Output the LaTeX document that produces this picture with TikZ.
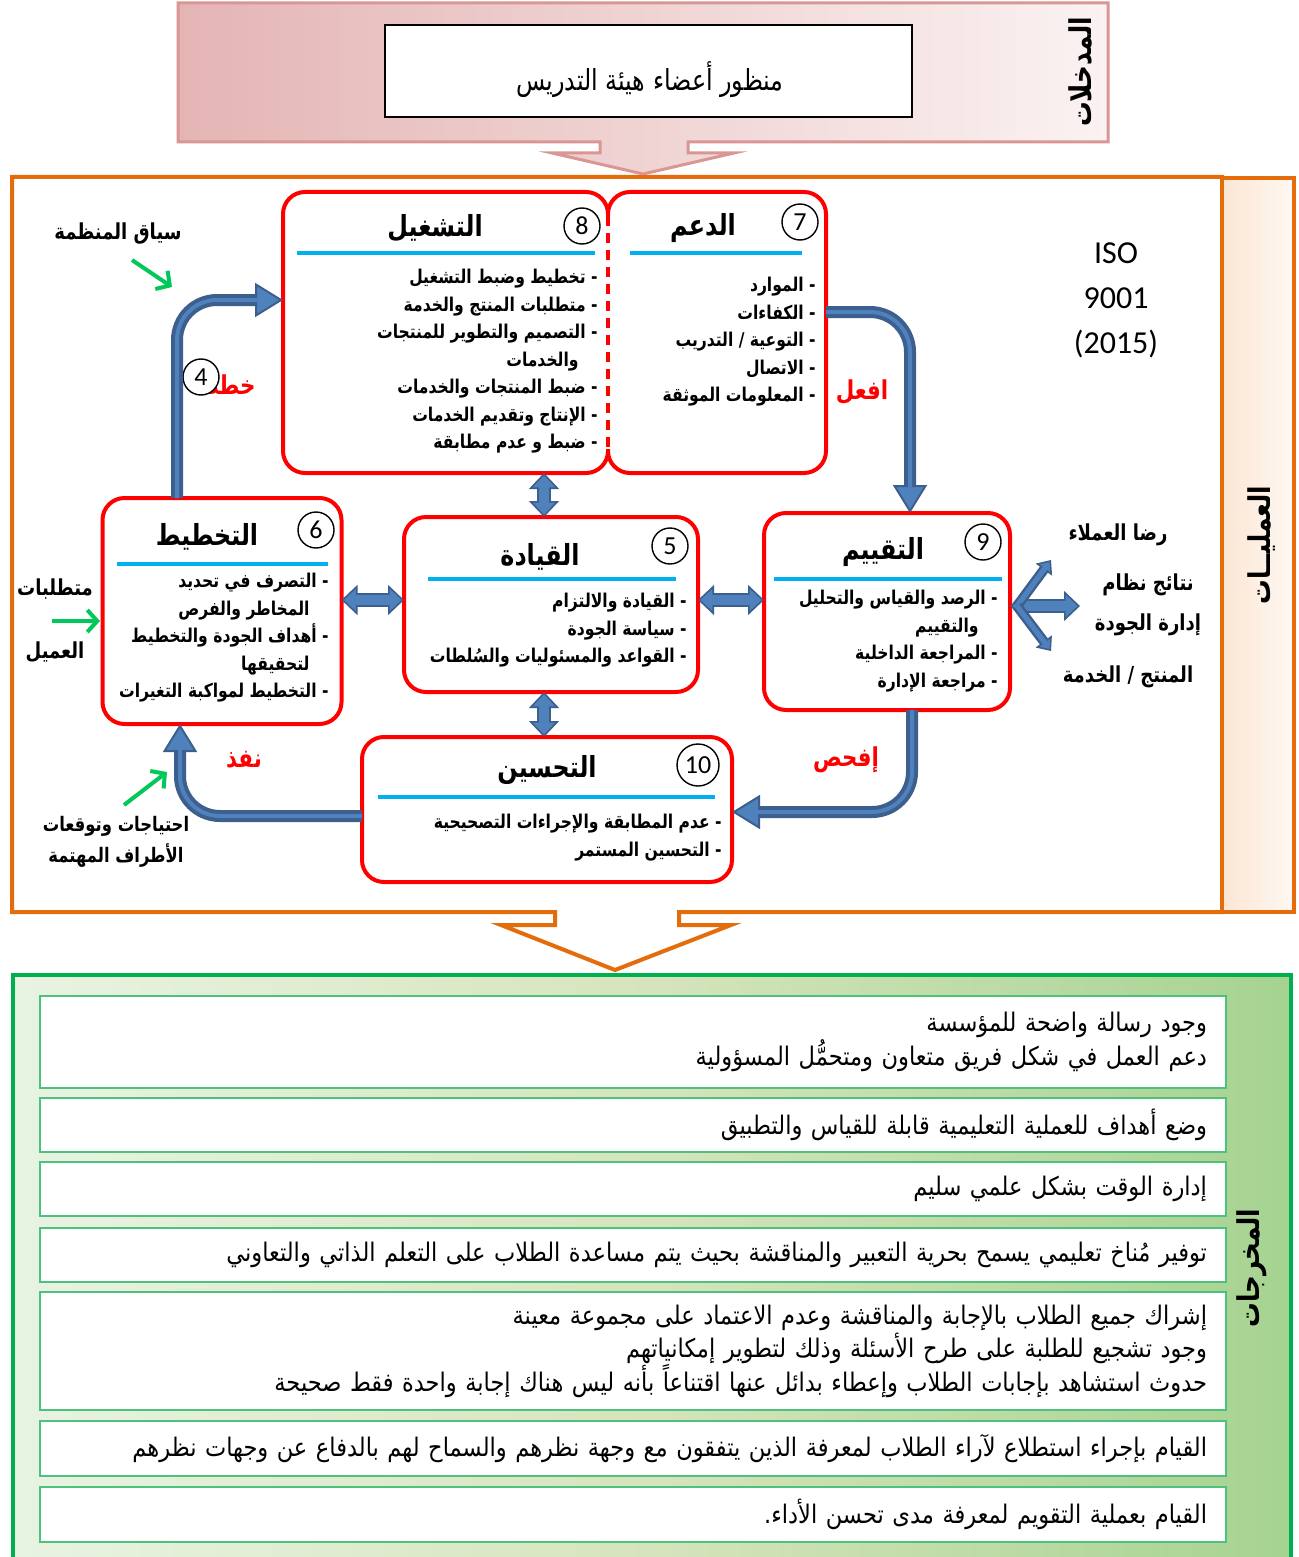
\documentclass[tikz,border=0pt]{standalone}
\usepackage{fontspec}
\usepackage{tikz}
\usetikzlibrary{
    arrows.meta,
    calc,
    positioning
}
\TeXXeTstate=1
\newfontfamily\arabicfont[Script=Arabic]{DejaVu Sans}
\newfontfamily\arabicnarrow[Script=Arabic, FakeStretch=0.82]{DejaVu Sans}
\newfontfamily\arabicbody[Script=Arabic, FakeStretch=0.88]{DejaVu Sans}
\newfontfamily\isofont{Carlito}
\newcommand{\rl}[1]{\beginR #1\endR}

\definecolor{pinkline}{HTML}{D99694}
\definecolor{pinkdark}{HTML}{E4B5B4}
\definecolor{pinklight}{HTML}{FBF2F2}
\definecolor{orangeline}{HTML}{E46C0A}
\definecolor{peach}{HTML}{FCE6D4}
\definecolor{greenline}{HTML}{00B050}
\definecolor{greenbox}{HTML}{4DC27C}
\definecolor{greenlight}{HTML}{E8F4E2}
\definecolor{greenmid}{HTML}{D6E4BC}
\definecolor{greendark}{HTML}{A6D391}
\definecolor{arrowgreen}{HTML}{00C85A}
\definecolor{cyanline}{HTML}{00B0F0}
\definecolor{pipedark}{HTML}{3C5F8D}
\definecolor{pipelight}{HTML}{4F81BD}

\tikzset{
    pipetip/.tip={Triangle[length=14pt, width=17pt, fill=pipelight, color=pipedark, line width=1pt]},
    blocktip/.tip={Triangle[length=8pt, width=15pt, fill=pipelight, color=pipedark, line width=0.8pt]},
    smalltip/.tip={Triangle[length=6pt, width=10pt, fill=pipelight, color=pipedark, line width=0.8pt]}
}

\begin{document}
\begin{tikzpicture}[x=0.5pt, y=-0.5pt,
    procbox/.style={draw=red, line width=2pt, rounded corners=11pt, fill=white, inner sep=0pt, outer sep=0pt},
    boxtitle/.style={font=\arabicnarrow\bfseries\fontsize{14.5}{16}\selectfont, inner sep=0pt},
    boxitems/.style={font=\arabicnarrow\bfseries\fontsize{9.5}{13.75}\selectfont, align=right, anchor=north east, inner sep=0pt},
    numcircle/.style={circle, draw, line width=0.7pt, minimum size=18pt, inner sep=0pt, fill=white, font=\isofont\fontsize{13}{13}\selectfont},
    cyanbar/.style={draw=cyanline, line width=2pt},
    pipe/.style={draw=pipedark, line width=6pt, rounded corners=20pt, -{pipetip},
        postaction={draw=pipelight, line width=2pt, -, shorten >=13pt}},
    blockarr/.style={draw=pipedark, line width=7pt, {blocktip}-{blocktip},
        postaction={draw=pipelight, line width=4.6pt, -, shorten >=6.5pt, shorten <=6.5pt}},
    branch/.style={draw=pipedark, line width=5pt, -{smalltip},
        postaction={draw=pipelight, line width=2.6pt, -, shorten >=5pt}},
    greenarr/.style={draw=arrowgreen, line width=2pt, -{Straight Barb[length=5pt, width=11pt]}},
    lbl/.style={font=\arabicnarrow\bfseries\fontsize{11}{20}\selectfont, inner sep=0pt},
    redlbl/.style={font=\arabicnarrow\bfseries\fontsize{13}{14}\selectfont, text=red, inner sep=0pt},
    sidelbl/.style={font=\arabicnarrow\bfseries\fontsize{15}{16}\selectfont, rotate=90, inner sep=0pt},
    outbox/.style={draw=greenbox, line width=1.2pt, fill=white, inner xsep=9.5pt, inner ysep=2pt,
        align=right, minimum width=593pt, text width=574pt, font=\arabicbody\fontsize{12.8}{16.75}\selectfont}
]
\fill[white] (0,0) rectangle (1299,1557);
\useasboundingbox (0,0) rectangle (1299,1557);

% inputs
\draw[draw=pinkline, line width=1.5pt, left color=pinkdark, right color=pinklight]
    (178,3) -- (1108,3) -- (1108,142) -- (688,142) -- (688,153) -- (734,153) -- (643,174)
    -- (552,153) -- (600,153) -- (600,142) -- (178,142) -- cycle;
\node[draw, line width=1pt, fill=white, minimum width=263.5pt, minimum height=46pt] (inp) at (648.5,71) {};
\node[font=\arabicnarrow\fontsize{14.5}{16}\selectfont, inner sep=0pt] (inptxt) at (650,80) {\rl{منظور أعضاء هيئة التدريس}};
\node[sidelbl] (inlbl) at (1080,72) {\rl{المدخلات}};

% processes
\draw[draw=orangeline, line width=2pt, fill=white]
    (12,177) -- (1222,177) -- (1222,912) -- (679,912) -- (679,925) -- (731,925) -- (615,970)
    -- (501,925) -- (555,925) -- (555,912) -- (12,912) -- cycle;
\draw[draw=orangeline, line width=2pt, left color=peach, right color=peach!30]
    (1222,178) rectangle (1294,912);
\node[sidelbl] (proclbl) at (1262,545) {\rl{العمليــات}};

\node[font=\isofont\fontsize{16}{22.5}\selectfont, align=center] (iso) at (1116,300) {ISO\\9001\\(2015)};

\node[procbox, minimum width=162.5pt, minimum height=140.5pt] (op) at (445.5,332.5) {};
\node[procbox, minimum width=109pt, minimum height=140.5pt] (sup) at (717,332.5) {};
\node[procbox, minimum width=119.5pt, minimum height=113pt] (plan) at (222,611) {};
\node[procbox, minimum width=147pt, minimum height=87.5pt] (lead) at (551,604.5) {};
\node[procbox, minimum width=123pt, minimum height=98.5pt] (eval) at (887,611.5) {};
\node[procbox, minimum width=185pt, minimum height=72.5pt] (impr) at (547,809.5) {};
\draw[white, line width=2.6pt] ([yshift=-12pt]op.north east) -- ([yshift=12pt]op.south east);
\draw[red, line width=2pt, dash pattern=on 5pt off 3.5pt] ([yshift=-12pt]op.north east) -- ([yshift=12pt]op.south east);

\node[boxtitle] (optitle) at (435,228) {\rl{التشغيل}};
\node[boxtitle] (suptitle) at (703,228) {\rl{الدعم}};
\node[boxtitle] (plantitle) at (207,537) {\rl{التخطيط}};
\node[boxtitle] (leadtitle) at (540,557) {\rl{القيادة}};
\node[boxtitle] (evaltitle) at (883,552) {\rl{التقييم}};
\node[boxtitle] (imprtitle) at (547,770) {\rl{التحسين}};

\draw[cyanbar] (297,253) -- (595,253);
\draw[cyanbar] (630,253) -- (802,253);
\draw[cyanbar] (117,564) -- (328,564);
\draw[cyanbar] (428,579) -- (676,579);
\draw[cyanbar] (774,579) -- (1002,579);
\draw[cyanbar] (378,797) -- (715,797);

\node[boxitems] (opitems) at (598,269) {\rl{- تخطيط وضبط التشغيل}\\\rl{- متطلبات  المنتج والخدمة}\\
    \rl{- التصميم والتطوير للمنتجات}\\\rl{\hspace*{1em}والخدمات}\\\rl{- ضبط المنتجات والخدمات}\\
    \rl{- الإنتاج وتقديم الخدمات}\\\rl{- ضبط و عدم مطابقة}};
\node[boxitems] (supitems) at (816,277) {\rl{- الموارد}\\\rl{- الكفاءات}\\\rl{- التوعية / التدريب}\\
    \rl{- الاتصال}\\\rl{- المعلومات الموثقة}};
\node[boxitems] (planitems) at (329,573) {\rl{- التصرف في تحديد}\\\rl{\hspace*{1em}المخاطر والفرص}\\
    \rl{- أهداف الجودة والتخطيط}\\\rl{\hspace*{1em}لتحقيقها}\\\rl{- التخطيط لمواكبة التغيرات}};
\node[boxitems] (leaditems) at (687,593) {\rl{- القيادة والالتزام}\\\rl{- سياسة الجودة}\\
    \rl{- القواعد والمسئوليات والسُلطات}};
\node[boxitems] (evalitems) at (998,590) {\rl{- الرصد والقياس والتحليل}\\\rl{\hspace*{1em}والتقييم}\\
    \rl{- المراجعة الداخلية}\\\rl{- مراجعة الإدارة}};
\node[boxitems] (impritems) at (722,814) {\rl{- عدم المطابقة والإجراءات  التصحيحية}\\\rl{- التحسين المستمر}};

\node[redlbl] (plantag) at (226,385) {\rl{خطط}};
\node[redlbl] (dotag) at (862,392) {\rl{افعل}};
\node[redlbl] (checktag) at (846,760) {\rl{إفحص}};
\node[redlbl] (acttag) at (244,760) {\rl{نفذ}};

\node[numcircle] (n8) at (582,226) {8};
\node[numcircle] (n7) at (800,222) {7};
\node[numcircle] (n4) at (201,377) {4};
\node[numcircle] (n6) at (316,530) {6};
\node[numcircle] (n5) at (670,546) {5};
\node[numcircle] (n9) at (983,542) {9};
\node[numcircle, minimum size=21pt] (n10) at (698,765) {10};

\draw[pipe] (177,0 |- plan.north) |- (op.west |- 0,300);
\draw[pipe] (sup.east |- 0,312) -| (910,0 |- eval.north);
\draw[pipe] (912,0 |- eval.south) |- (impr.east |- 0,812);
\draw[pipe] (impr.west |- 0,816) -| (180,0 |- plan.south);

\draw[blockarr] (plan.east |- 0,600) -- (lead.west |- 0,600);
\draw[blockarr] (lead.east |- 0,600) -- (eval.west |- 0,600);
\draw[blockarr] (544,0 |- op.south) -- (544,0 |- lead.north);
\draw[blockarr] (544,0 |- lead.south) -- (544,0 |- impr.north);

\coordinate (fork) at (1017,606);
\coordinate (qmsend) at (1080,606);
\coordinate (satend) at (1051,560);
\coordinate (prodend) at (1051,651);
\draw[blockarr] (eval.east |- fork) -- (qmsend);
\draw[branch] (fork) -- (satend);
\draw[branch] (fork) -- (prodend);

\node[lbl] (satlbl) at (1118,535) {\rl{رضا العملاء}};
\node[lbl, align=center] (qmslbl) at (1148,605) {\rl{نتائج نظام}\\\rl{إدارة الجودة}};
\node[lbl] (prodlbl) at (1128,677) {\rl{المنتج / الخدمة}};

\node[lbl] (ctx) at (118,234) {\rl{سياق المنظمة}};
\node[lbl] (req1) at (55,589) {\rl{متطلبات}};
\node[lbl] (req2) at (55,652) {\rl{العميل}};
\node[lbl, font=\arabicnarrow\bfseries\fontsize{10}{15.5}\selectfont, align=center] (needs) at (116,842)
    {\rl{احتياجات وتوقعات}\\\rl{الأطراف المهتمة}};
\coordinate (ctxfrom) at (132,260);
\coordinate (ctxto) at (172,287);
\coordinate (reqfrom) at (52,621);
\coordinate (reqto) at (100,621);
\coordinate (needfrom) at (124,805);
\coordinate (needto) at (167,772);
\draw[greenarr] (ctxfrom) -- (ctxto);
\draw[greenarr] (reqfrom) -- (reqto);
\draw[greenarr] (needfrom) -- (needto);

% outputs
\draw[draw=greenline, line width=2pt, left color=greenlight, right color=greendark, middle color=greenmid]
    (13,975) rectangle (1291,1562);
\node[sidelbl] (outlbl) at (1252,1268) {\rl{المخرجات}};
\node[outbox, minimum height=46pt] (out1) at (633,1042)
    {\rl{وجود رسالة واضحة للمؤسسة}\\\rl{دعم العمل في شكل فريق متعاون ومتحمُّل المسؤولية}};
\node[outbox, minimum height=27pt] (out2) at (633,1125)
    {\rl{وضع أهداف للعملية التعليمية قابلة للقياس والتطبيق}};
\node[outbox, minimum height=27pt] (out3) at (633,1189)
    {\rl{إدارة الوقت بشكل علمي سليم}};
\node[outbox, minimum height=27pt] (out4) at (633,1255)
    {\rl{توفير مُناخ تعليمي يسمح بحرية التعبير والمناقشة بحيث يتم مساعدة الطلاب على التعلم الذاتي والتعاوني}};
\node[outbox, minimum height=59pt] (out5) at (633,1351)
    {\rl{إشراك جميع الطلاب بالإجابة والمناقشة وعدم الاعتماد على مجموعة معينة}\\
     \rl{وجود تشجيع للطلبة على طرح الأسئلة وذلك لتطوير إمكانياتهم}\\
     \rl{حدوث استشاهد بإجابات الطلاب وإعطاء بدائل عنها اقتناعاً بأنه ليس هناك إجابة واحدة فقط صحيحة}};
\node[outbox, minimum height=27.5pt] (out6) at (633,1448.5)
    {\rl{القيام بإجراء استطلاع لآراء الطلاب لمعرفة الذين يتفقون مع وجهة نظرهم والسماح لهم بالدفاع عن وجهات نظرهم}};
\node[outbox, minimum height=27.5pt] (out7) at (633,1514.5)
    {\rl{القيام بعملية التقويم لمعرفة مدى تحسن الأداء.}};
\end{tikzpicture}
\end{document}
